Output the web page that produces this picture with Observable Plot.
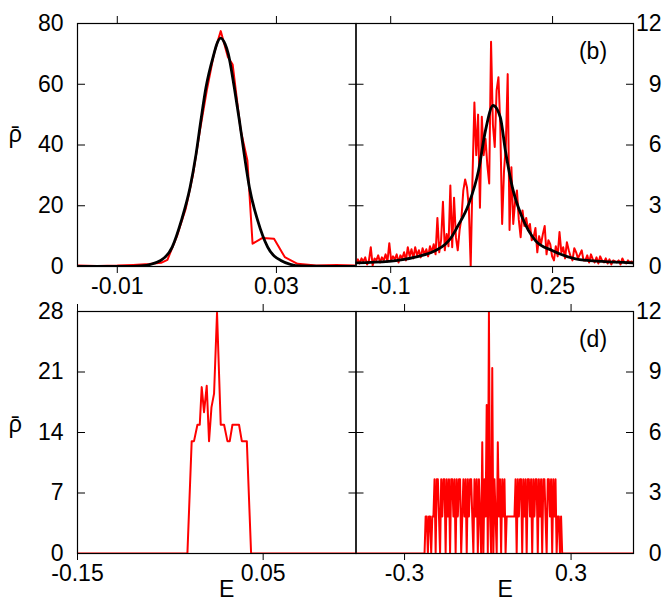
<!DOCTYPE html>
<html><head><meta charset="utf-8">
<script src="https://cdn.jsdelivr.net/npm/d3@7"></script>
<script src="https://cdn.jsdelivr.net/npm/@observablehq/plot@0.6"></script>
<style>
body{margin:0;background:#fff;}
#fig{position:relative;width:664px;height:603px;overflow:hidden;background:#fff;}
#fig svg{position:absolute;left:0;top:0;}
</style></head><body><div id="fig"></div>
<script>
// ---------- Panel (a) ----------
const aE   = [-0.02,-0.015,-0.01,-0.006,-0.002,0.001,0.0026,0.005,0.0072,0.009,0.0108,0.0125,0.0143,0.016,0.0178,0.019,0.021,0.0227,0.024,0.0265,0.0294,0.0321,0.0353,0.04,0.045,0.05];
const aRho = [0.3,0.2,0.3,0.5,0.8,1.2,2.2,10,19,30,45,58,70,77.5,69,66.5,45,34.9,7.5,9.4,9.1,3.1,0.9,0.3,0.5,0.3];
const aFitE   = [-0.02,-0.008,-0.004,0.0009,0.0038,0.0061,0.0083,0.0098,0.011,0.0123,0.0143,0.015,0.016,0.0171,0.0179,0.0194,0.0207,0.0219,0.0232,0.0253,0.0278,0.0311,0.036,0.05];
const aFitRho = [0,0,0.2,2.0,6.4,15.1,26.1,37.0,48.0,59.0,70.0,73.2,75.2,73.2,70.0,59.0,48.0,37.0,26.1,15.1,6.4,2.0,0.2,0];
const aXTicks = [-0.01, 0.03];
const aYTicks = [0, 20, 40, 60, 80];

// ---------- Panel (b) ----------
const bE = [-0.175,-0.171,-0.167,-0.163,-0.159,-0.155,-0.151,-0.147,-0.143,-0.139,-0.135,-0.131,-0.127,-0.123,-0.119,-0.115,-0.111,-0.107,-0.103,-0.099,-0.095,-0.091,-0.087,-0.083,-0.079,-0.075,-0.071,-0.067,-0.063,-0.059,-0.055,-0.051,-0.047,-0.043,-0.039,-0.035,-0.031,-0.027,-0.023,-0.019,-0.015,-0.011,-0.007,-0.003,0.001,0.005,0.009,0.013,0.017,0.021,0.025,0.029,0.033,0.037,0.041,0.045,0.049,0.053,0.057,0.061,0.065,0.069,0.073,0.077,0.081,0.085,0.089,0.093,0.097,0.101,0.105,0.109,0.113,0.117,0.121,0.125,0.129,0.133,0.137,0.141,0.145,0.149,0.153,0.157,0.161,0.165,0.169,0.173,0.177,0.181,0.185,0.189,0.193,0.197,0.201,0.205,0.209,0.213,0.217,0.221,0.225,0.229,0.233,0.237,0.241,0.245,0.249,0.253,0.257,0.261,0.265,0.269,0.273,0.277,0.281,0.285,0.289,0.293,0.297,0.301,0.305,0.309,0.313,0.317,0.321,0.325,0.329,0.333,0.337,0.341,0.345,0.349,0.353,0.357,0.361,0.365,0.369,0.373,0.377,0.381,0.385,0.389,0.393,0.397,0.401,0.405,0.409,0.413,0.417,0.421,0.425];
const bRho = [0.2,0.35,0.15,0.4,0.25,0.45,0.1,0.3,0.95,0.05,0.4,0.3,0.55,0.2,0.45,0.3,0.6,0.25,1.15,0.3,0.5,0.35,0.6,0.2,0.55,0.4,0.7,0.3,0.95,0.5,0.85,0.4,0.95,0.55,0.8,0.45,0.9,0.6,0.85,0.5,1.0,0.7,1.1,0.6,2.4,0.7,1.3,3.2,0.8,1.6,1.0,4.0,0.95,3.4,1.45,0.8,1.8,2.4,3.75,4.3,3.9,2.9,0.0,4.5,8.1,5.5,7.5,2.9,7.4,5.5,6.3,5.0,4.1,11.1,7.0,5.9,8.7,9.35,6.9,2.1,4.7,6.0,9.5,1.8,4.9,2.1,3.2,3.75,2.3,1.45,2.77,2.0,2.4,1.8,2.1,1.3,1.45,1.9,0.7,1.5,1.1,1.6,2.0,0.6,1.3,1.1,0.5,0.3,1.0,0.5,1.7,0.7,0.95,0.4,1.2,0.8,0.5,0.3,0.9,0.7,0.4,0.6,0.8,0.3,0.3,0.55,0.2,0.6,0.35,0.2,0.45,0.15,0.5,0.3,0.2,0.4,0.15,0.35,0.1,0.3,0.25,0.2,0.3,0.1,0.4,0.2,0.15,0.3,0.2,0.25,0.15];
const bFitE   = [-0.175,-0.104,-0.047,-0.003,0.018,0.029,0.044,0.069,0.09,0.105,0.1215,0.137,0.148,0.163,0.184,0.213,0.249,0.3,0.357,0.425];
const bFitRho = [0.18,0.25,0.46,0.79,1.1,1.37,1.95,3.1,4.74,6.72,7.95,7.37,5.73,3.92,2.44,1.28,0.79,0.38,0.25,0.18];
const bXTicks = [-0.1, 0.25];
const bYTicks = [0, 3, 6, 9, 12];

// ---------- Panel (c) ----------
const cE   = [-0.15,-0.0316,-0.027,-0.0245,-0.0208,-0.0183,-0.0162,-0.0137,-0.0108,-0.0083,-0.0057,-0.0029,0.0003,0.0043,0.0079,0.0115,0.014,0.0169,0.024,0.027,0.0324,0.037,0.15];
const cRho = [0,0,13,13,14.9,14.9,19.25,16.35,19.4,13,16.9,18.5,27.85,14.9,14.9,13,13,14.9,14.9,13,13,0,0];
const cXTicks = [-0.15, 0.05];
const cYTicks = [0, 7, 14, 21, 28];

// ---------- Panel (d) ----------
const dE = [-0.475,-0.228,-0.224,-0.22,-0.216,-0.212,-0.208,-0.204,-0.2,-0.196,-0.192,-0.188,-0.184,-0.18,-0.176,-0.172,-0.168,-0.164,-0.16,-0.156,-0.152,-0.148,-0.144,-0.14,-0.136,-0.132,-0.128,-0.124,-0.12,-0.116,-0.112,-0.108,-0.104,-0.1,-0.096,-0.092,-0.088,-0.084,-0.08,-0.076,-0.072,-0.068,-0.064,-0.06,-0.056,-0.052,-0.048,-0.044,-0.04,-0.036,-0.032,-0.028,-0.024,-0.02,-0.016,-0.012,-0.008,-0.004,0,0.004,0.008,0.012,0.016,0.02,0.024,0.028,0.032,0.036,0.04,0.044,0.048,0.052,0.056,0.06,0.064,0.068,0.072,0.076,0.08,0.084,0.088,0.092,0.096,0.1,0.104,0.108,0.112,0.116,0.12,0.124,0.128,0.132,0.136,0.14,0.144,0.148,0.152,0.156,0.16,0.164,0.168,0.172,0.176,0.18,0.184,0.188,0.192,0.196,0.2,0.204,0.208,0.212,0.216,0.22,0.224,0.228,0.232,0.236,0.24,0.244,0.248,0.252,0.256,0.26,0.264,0.268,0.525];
const dRho = [0,0,1.84,1.84,0,1.84,1.84,0,1.84,1.84,3.68,0,3.68,3.68,1.84,0,3.68,1.84,3.68,3.68,0,3.68,1.84,3.68,0,3.68,3.68,1.84,3.68,0,3.68,1.84,3.68,3.68,0,1.84,3.68,1.84,3.68,0,3.68,1.84,3.68,3.68,1.84,0,3.68,1.84,3.68,0,3.68,1.84,0,5.52,0,3.68,1.84,7.36,0,12,1.84,0,9.2,0,3.68,1.84,0,5.52,1.84,3.68,0,3.68,1.84,3.68,0,1.84,1.84,1.84,1.84,1.84,1.84,1.84,1.84,3.68,0,3.68,1.84,3.68,3.68,0,3.68,1.84,3.68,0,3.68,3.68,1.84,3.68,0,3.68,1.84,3.68,3.68,0,3.68,1.84,3.68,0,3.68,3.68,1.84,0,3.68,3.68,1.84,3.68,0,3.68,1.84,3.68,0,1.84,1.84,0,1.84,0,0];
const dXTicks = [-0.3, 0.3];
const dYTicks = [0, 3, 6, 9, 12];

const panelTags = ["(b)", "(d)"];
const yTitle = "ρ̄";
const xTitle = "E";

// ---------- Layout ----------
const W = 664, H = 603;
const FONT = "'Liberation Sans', Arial, Helvetica, sans-serif";
const RED = "#ff0000";
const toRows = (xs, ys) => xs.map((e, i) => ({E: e, rho: ys[i]}));

function panel(o) {
  const [x0, y0, x1, y1] = o.box;
  const marks = [];
  for (const s of o.series) {
    marks.push(Plot.line(toRows(s.x, s.y), {x: "E", y: "rho", stroke: s.color, strokeWidth: s.width, curve: s.curve || "linear", clip: true}));
  }
  marks.push(Plot.frame({stroke: "black", strokeWidth: 1.2}));
  marks.push(Plot.axisY(o.yTicks, {anchor: "left", tickSize: 8, dx: 8, fill: "none", label: null, stroke: "black"}));
  marks.push(Plot.axisY(o.yTicks, {anchor: "right", tickSize: 8, dx: -8, fill: "none", label: null, stroke: "black"}));
  if (o.ySide === "left") {
    marks.push(Plot.axisY(o.yTicks, {anchor: "left", tickSize: 0, tickPadding: 14, label: null, tickFormat: d => String(d), fill: "black"}));
  } else {
    marks.push(Plot.axisY(o.yTicks, {anchor: "right", tickSize: 0, tickPadding: 28, textAnchor: "end", label: null, tickFormat: d => String(d), fill: "black"}));
  }
  marks.push(Plot.axisX(o.xTicks, {anchor: "top", tickSize: 8, fill: "none", label: null, stroke: "black"}));
  marks.push(Plot.axisX(o.xTicks, {anchor: "bottom", tickSize: 7, tickPadding: 4, label: null, tickFormat: d => String(d), fill: "black", stroke: "black"}));
  if (o.extra) marks.push(...o.extra);
  const svg = Plot.plot({
    width: W, height: H,
    marginLeft: x0, marginRight: W - x1, marginTop: y0, marginBottom: H - y1,
    x: {domain: o.xDomain},
    y: {domain: o.yDomain},
    style: {background: "transparent", fontFamily: FONT, fontSize: "23px", color: "black", overflow: "visible"},
    marks
  });
  document.getElementById("fig").appendChild(svg);
}

const rhoLabel = (dy) => Plot.text([yTitle], {frameAnchor: "left", dx: -62, dy, textAnchor: "middle", lineAnchor: "top", fontSize: 23, fontFamily: "'Noto Sans', 'DejaVu Sans', sans-serif", fill: "black"});
const tagLabel = (t) => Plot.text([t], {frameAnchor: "top-right", dx: -40.5, dy: 19, textAnchor: "middle", lineAnchor: "top", fontSize: 23, fill: "black"});
const eLabel = (dx) => Plot.text([xTitle], {frameAnchor: "bottom", dx, dy: 27, textAnchor: "middle", lineAnchor: "top", fontSize: 23, fill: "black"});

panel({
  box: [77, 23, 355.5, 266], xDomain: [-0.02, 0.05], yDomain: [0, 80],
  xTicks: aXTicks, yTicks: aYTicks, ySide: "left",
  series: [
    {x: aE, y: aRho, color: RED, width: 2},
    {x: aFitE, y: aFitRho, color: "black", width: 2.8, curve: "monotone-x"}
  ],
  extra: [rhoLabel(-19)]
});
panel({
  box: [355.5, 23, 633, 266], xDomain: [-0.175, 0.425], yDomain: [0, 12],
  xTicks: bXTicks, yTicks: bYTicks, ySide: "right",
  series: [
    {x: bE, y: bRho, color: RED, width: 2},
    {x: bFitE, y: bFitRho, color: "black", width: 2.8, curve: "monotone-x"}
  ],
  extra: [tagLabel(panelTags[0])]
});
panel({
  box: [77, 311, 355.5, 553], xDomain: [-0.15, 0.15], yDomain: [0, 28],
  xTicks: cXTicks, yTicks: cYTicks, ySide: "left",
  series: [{x: cE, y: cRho, color: RED, width: 2}],
  extra: [rhoLabel(-17), eLabel(10)]
});
panel({
  box: [355.5, 311, 633, 553], xDomain: [-0.475, 0.525], yDomain: [0, 12],
  xTicks: dXTicks, yTicks: dYTicks, ySide: "right",
  series: [{x: dE, y: dRho, color: RED, width: 2}],
  extra: [tagLabel(panelTags[1]), eLabel(10.5)]
});
</script>
</body></html>
